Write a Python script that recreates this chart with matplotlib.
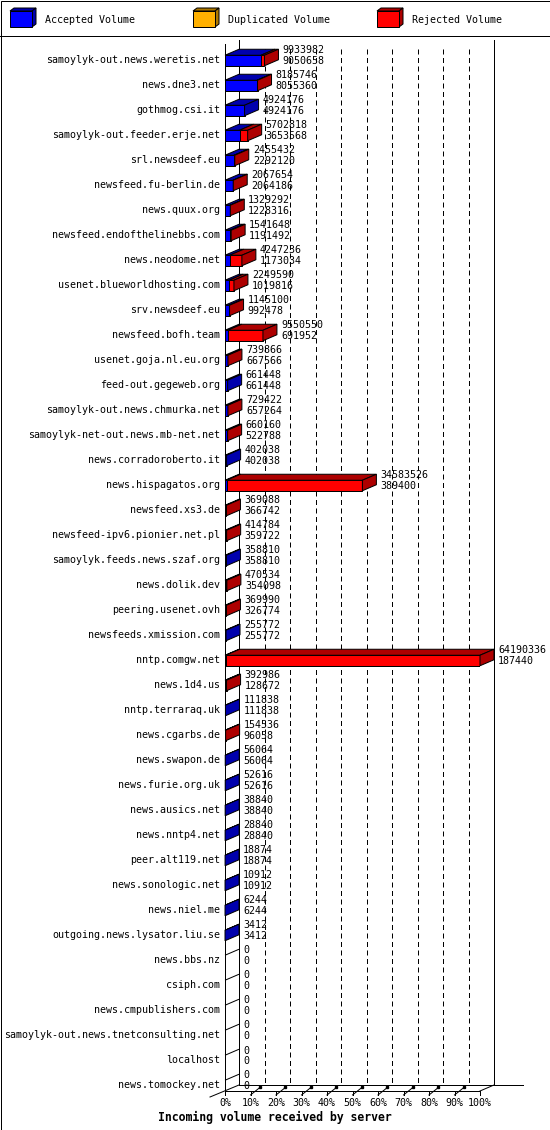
import matplotlib
matplotlib.use("Agg")
import matplotlib.pyplot as plt
from matplotlib.patches import Polygon, Rectangle

servers = [
    "samoylyk-out.news.weretis.net", "news.dne3.net", "gothmog.csi.it",
    "samoylyk-out.feeder.erje.net", "srl.newsdeef.eu", "newsfeed.fu-berlin.de",
    "news.quux.org", "newsfeed.endofthelinebbs.com", "news.neodome.net",
    "usenet.blueworldhosting.com", "srv.newsdeef.eu", "newsfeed.bofh.team",
    "usenet.goja.nl.eu.org", "feed-out.gegeweb.org", "samoylyk-out.news.chmurka.net",
    "samoylyk-net-out.news.mb-net.net", "news.corradoroberto.it", "news.hispagatos.org",
    "newsfeed.xs3.de", "newsfeed-ipv6.pionier.net.pl", "samoylyk.feeds.news.szaf.org",
    "news.dolik.dev", "peering.usenet.ovh", "newsfeeds.xmission.com",
    "nntp.comgw.net", "news.1d4.us", "nntp.terraraq.uk", "news.cgarbs.de",
    "news.swapon.de", "news.furie.org.uk", "news.ausics.net", "news.nntp4.net",
    "peer.alt119.net", "news.sonologic.net", "news.niel.me",
    "outgoing.news.lysator.liu.se", "news.bbs.nz", "csiph.com",
    "news.cmpublishers.com", "samoylyk-out.news.tnetconsulting.net",
    "localhost", "news.tomockey.net",
]
# total volume offered (upper number) and accepted volume (lower number)
total_volume = [
    9933982, 8185746, 4924176, 5702818, 2455432, 2067654, 1329292, 1541648,
    4247236, 2249590, 1145100, 9550550, 739866, 661448, 729422, 660160,
    402038, 34583526, 369088, 414784, 358810, 470534, 369990, 255772,
    64190336, 392986, 111838, 154536, 56064, 52616, 38840, 28840,
    18874, 10912, 6244, 3412, 0, 0, 0, 0, 0, 0,
]
accepted_volume = [
    9050658, 8055360, 4924176, 3653568, 2292120, 2064186, 1228316, 1191492,
    1173034, 1019816, 992478, 691952, 667566, 661448, 657264, 522788,
    402038, 389400, 366742, 359722, 358810, 354098, 326774, 255772,
    187440, 128672, 111838, 96058, 56064, 52616, 38840, 28840,
    18874, 10912, 6244, 3412, 0, 0, 0, 0, 0, 0,
]
pct_ticks = [0, 10, 20, 30, 40, 50, 60, 70, 80, 90, 100]
tick_labels = ["0%", "10%", "20%", "30%", "40%", "50%", "60%", "70%", "80%", "90%", "100%"]
legend_labels = ["Accepted Volume", "Duplicated Volume", "Rejected Volume"]

W, H = 550, 1130
PT = 0.72  # points per pixel at 100 dpi
FONT = "DejaVu Sans Mono"
FS = 7.2

blue, dblue = "#0000ff", "#0000ad"
orange, dorange = "#ffb000", "#ad7800"
red, dred = "#ff0000", "#ad0000"

fig = plt.figure(figsize=(W / 100, H / 100), dpi=100)
fig.patch.set_facecolor("white")

# background layer in pixel units: frame + legend
bg = fig.add_axes([0, 0, 1, 1])
bg.set_xlim(0, W)
bg.set_ylim(H, 0)
bg.axis("off")
bg.add_patch(Rectangle((0.5, 0.5), W - 1, H - 1, fill=False, ec="black", lw=PT))
bg.plot([0, W], [35.5, 35.5], color="black", lw=PT)

def box3d(a, x0, y0, w, h, dx, dy, face, dark):
    a.add_patch(Polygon([(x0, y0), (x0 + dx, y0 - dy), (x0 + w + dx, y0 - dy), (x0 + w, y0)],
                        fc=dark, ec="black", lw=PT))
    a.add_patch(Polygon([(x0 + w, y0), (x0 + w + dx, y0 - dy), (x0 + w + dx, y0 + h - dy), (x0 + w, y0 + h)],
                        fc=dark, ec="black", lw=PT))
    a.add_patch(Rectangle((x0, y0), w, h, fc=face, ec="black", lw=PT))

for lx, lab, c, dc in zip([10, 193, 377], legend_labels, [blue, orange, red], [dblue, dorange, dred]):
    box3d(bg, lx, 11, 22, 16, 4, 3, c, dc)
    bg.text(lx + 35, 20, lab, fontsize=FS, family=FONT, ha="left", va="center")

# chart axes: x in percent, y in rows (25 px each)
ax = fig.add_axes([225 / W, 1 - 1091 / H, 255 / W, (1091 - 44) / H])
ax.set_xlim(0, 100)
y_bot, y_top = (1091 - 60.5) / 25, (44 - 60.5) / 25
ax.set_ylim(y_bot, y_top)
ax.axis("off")

DX = 14 / 2.55   # depth in percent units
DY = 6 / 25      # depth in row units
back_bot = y_bot - DY
back_top = (40 - 60.5) / 25
line = dict(color="black", lw=PT, clip_on=False)

# walls and floor
ax.plot([0, 0], [y_top, y_bot], **line)
ax.plot([DX, DX], [back_top, back_bot], **line)
ax.plot([100 + DX, 100 + DX], [back_top, back_bot], **line)
for p in pct_ticks[1:-1]:
    ax.plot([p + DX, p + DX], [(49 - 60.5) / 25, back_bot], color="black", lw=PT,
            ls=(0, (5, 3.5)), zorder=1)
ax.plot([0, 100], [y_bot, y_bot], **line)
ax.plot([100, 100 + DX], [y_bot, back_bot], **line)
ax.plot([DX, (523 - 225) / 2.55], [back_bot, back_bot], **line)
ax.plot([-15 / 2.55, DX], [y_bot + DY, back_bot], **line)
for p, lab in zip(pct_ticks, tick_labels):
    ax.plot([p, p], [y_bot, y_bot + 4 / 25], **line)
    if 0 < p < 100:
        ax.plot([p, p + 10 / 2.55], [y_bot + 4 / 25, y_bot - 4 / 25], **line)
        ax.plot([p + 9 / 2.55], [y_bot - 3.5 / 25], marker="s", ms=2 * PT, color="black",
                clip_on=False)
    ax.annotate(lab, (p, y_bot), xytext=(0, -12 * PT), textcoords="offset points",
                ha="center", va="center", fontsize=FS, family=FONT, annotation_clip=False)

vmax = max(total_volume)
h = 10.5 / 25
for i, (name, tot, acc) in enumerate(zip(servers, total_volume, accepted_volume)):
    t = tot / vmax * 100
    a = acc / vmax * 100
    top = i - h / 2
    segs = [(0, a, blue, dblue), (a, t, red, dred)]
    segs = [s for s in segs if s[1] > s[0]] or [(0, 0, blue, dblue)]
    for x0, x1, c, dc in segs:
        if x1 > x0:
            ax.barh(i, x1 - x0, left=x0, height=h, color=c, edgecolor="black", lw=PT, zorder=3)
        ax.add_patch(Polygon([(x0, top), (x0 + DX, top - DY), (x1 + DX, top - DY), (x1, top)],
                             fc=dc, ec="black", lw=PT, zorder=3, clip_on=False))
    if t > 0:
        dc = segs[-1][3]
        ax.add_patch(Polygon([(t, top), (t + DX, top - DY), (t + DX, top + h - DY), (t, top + h)],
                             fc=dc, ec="black", lw=PT, zorder=3, clip_on=False))
    ax.annotate(name, (0, i), xytext=(-5 * PT, 0.5 * PT), textcoords="offset points",
                ha="right", va="center", fontsize=FS, family=FONT, annotation_clip=False)
    ax.annotate(str(tot), (t, i), xytext=(18 * PT, 10 * PT), textcoords="offset points",
                ha="left", va="center", fontsize=FS, family=FONT, annotation_clip=False)
    ax.annotate(str(acc), (t, i), xytext=(18 * PT, -0.5 * PT), textcoords="offset points",
                ha="left", va="center", fontsize=FS, family=FONT, annotation_clip=False)

bg.text(275, 1117, "Incoming volume received by server", fontsize=8.3, family=FONT,
        weight="bold", ha="center", va="center")

fig.savefig("out.png", dpi=100, facecolor="white")
